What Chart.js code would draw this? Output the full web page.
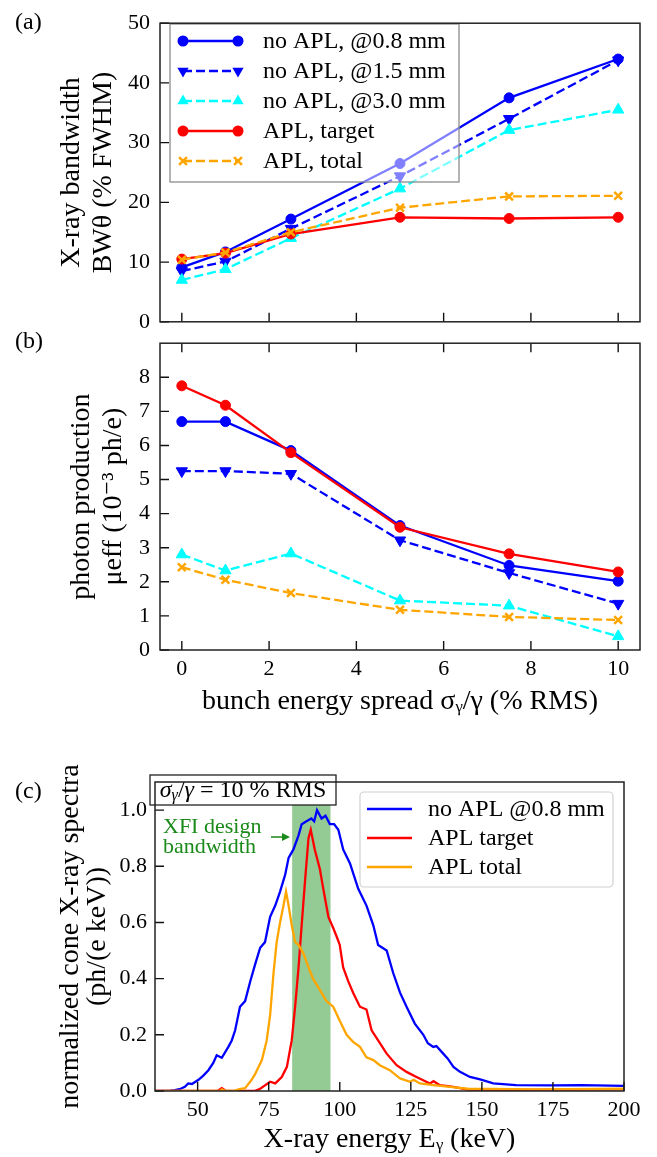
<!DOCTYPE html>
<html>
<head>
<meta charset="utf-8">
<script src="https://cdn.jsdelivr.net/npm/chart.js@4.4.0/dist/chart.umd.min.js"></script>
<style>
	body { margin: 0; background: #fff; width: 657px; height: 1157px; position: relative; overflow: hidden; }
	.box { position: absolute; left: 0; width: 657px; }
</style>
</head>
<body>
<div class="box" style="top:0;height:345px"><canvas id="chartA"></canvas></div>
<div class="box" style="top:320px;height:400px"><canvas id="chartB"></canvas></div>
<div class="box" style="top:760px;height:397px"><canvas id="chartC"></canvas></div>
<script>
// ---- data: panels (a) and (b) ----
var spread = [0, 1, 2.5, 5, 7.5, 10];
var seriesLabels = ['no APL, @0.8 mm', 'no APL, @1.5 mm', 'no APL, @3.0 mm', 'APL, target', 'APL, total'];

var bwNoApl08 = [9.1, 11.7, 17.2, 26.5, 37.5, 44.0];
var bwNoApl15 = [8.5, 10.1, 15.6, 24.4, 34.0, 43.8];
var bwNoApl30 = [7.0, 8.8, 14.0, 22.3, 32.1, 35.5];
var bwAplTarget = [10.5, 11.5, 14.7, 17.5, 17.3, 17.5];
var bwAplTotal = [10.4, 11.6, 15.0, 19.1, 21.0, 21.1];

var muNoApl08 = [6.7, 6.7, 5.85, 3.65, 2.48, 2.02];
var muNoApl15 = [5.25, 5.25, 5.17, 3.22, 2.26, 1.36];
var muNoApl30 = [2.8, 2.33, 2.83, 1.45, 1.3, 0.4];
var muAplTarget = [7.75, 7.18, 5.79, 3.6, 2.82, 2.29];
var muAplTotal = [2.43, 2.06, 1.67, 1.18, 0.97, 0.88];

var spreadTicks = [0, 2, 4, 6, 8, 10];
var bwTicks = [0, 10, 20, 30, 40, 50];
var muTicks = [0, 1, 2, 3, 4, 5, 6, 7, 8];

// ---- data: panel (c) spectra ----
var specLabels = ['no APL @0.8 mm', 'APL target', 'APL total'];
var specEnergyBlue = [35, 40, 42, 44, 45.5, 46.7, 48, 50.3, 52, 53.8, 55.5, 56.7, 58.5, 60.8, 62, 63.2, 64.9, 66.7, 68.5, 70.2, 72, 73.7, 75.5, 77.3, 79, 80.8, 82, 83.7, 85.5, 86.6, 88.3, 90, 91, 92, 93.6, 95, 96.5, 98, 99.5, 101.2, 103.6, 106.5, 109.4, 111.8, 113.5, 115, 116.5, 118.8, 121.2, 123.5, 126.4, 129.4, 131, 132.9, 134, 136.4, 138, 140, 142.3, 145.8, 149.4, 154, 162, 175, 185, 200];
var specBlue = [0, 0, 0.003, 0.008, 0.015, 0.027, 0.025, 0.04, 0.055, 0.074, 0.1, 0.127, 0.118, 0.157, 0.18, 0.216, 0.30, 0.32, 0.39, 0.45, 0.51, 0.53, 0.62, 0.66, 0.71, 0.77, 0.83, 0.86, 0.91, 0.95, 0.96, 0.97, 0.96, 1.0, 0.97, 0.98, 0.95, 0.95, 0.93, 0.86, 0.81, 0.72, 0.66, 0.59, 0.52, 0.51, 0.50, 0.42, 0.35, 0.30, 0.24, 0.20, 0.17, 0.157, 0.16, 0.133, 0.115, 0.086, 0.068, 0.05, 0.041, 0.027, 0.021, 0.02, 0.021, 0.018];
var specEnergyRed = [35, 57, 58.5, 60, 70, 72, 73.7, 75.5, 77.3, 79.6, 81.4, 83.1, 84.3, 85.5, 86.6, 87.8, 89, 89.8, 91.2, 93, 94.2, 96, 97.7, 98.9, 100, 101.2, 103, 104.7, 107.1, 109.4, 111.2, 113.5, 116.5, 120, 123.5, 127, 131.7, 133, 135.2, 140, 145, 160, 200];
var specRed = [0, 0, 0.01, 0, 0, 0.008, 0.02, 0.033, 0.027, 0.05, 0.086, 0.18, 0.30, 0.44, 0.59, 0.75, 0.90, 0.93, 0.86, 0.79, 0.72, 0.62, 0.58, 0.55, 0.52, 0.44, 0.39, 0.35, 0.30, 0.29, 0.216, 0.18, 0.133, 0.092, 0.068, 0.05, 0.027, 0.035, 0.021, 0.015, 0.005, 0.004, 0.006];
var specEnergyOrange = [35, 58, 58.5, 60, 63, 64.3, 66.7, 69, 70.2, 72.6, 74.3, 75.5, 76.7, 77.8, 79, 80.2, 81.1, 82, 83.1, 84.3, 85.5, 87.2, 88.3, 89, 90.6, 93, 95.3, 97.7, 100, 102.4, 104.7, 107.1, 109.4, 111.8, 114.1, 117.6, 121.2, 124.7, 126, 128.2, 133, 138.8, 145, 170, 200];
var specOrange = [0, 0, 0.006, 0, 0, 0.006, 0.01, 0.04, 0.06, 0.11, 0.18, 0.27, 0.42, 0.53, 0.60, 0.66, 0.71, 0.66, 0.59, 0.53, 0.52, 0.49, 0.46, 0.44, 0.40, 0.36, 0.32, 0.30, 0.25, 0.20, 0.175, 0.157, 0.12, 0.11, 0.092, 0.074, 0.045, 0.033, 0.04, 0.027, 0.021, 0.015, 0.008, 0.006, 0.008];
var bandLow = 83.25, bandHigh = 96.75;
var energyTicks = [50, 75, 100, 125, 150, 175, 200];
var specTicks = [0, 0.2, 0.4, 0.6, 0.8, 1.0];

var serif = "'Liberation Serif', 'DejaVu Serif', serif";
Chart.defaults.font.family = serif;
Chart.defaults.color = '#000';

var styles = [
	{color: '#0000ff', dash: [], point: 'circle', radius: 5, rot: 0},
	{color: '#0000ff', dash: [9, 4], point: 'triangle', radius: 6.5, rot: 180},
	{color: '#00ffff', dash: [9, 4], point: 'triangle', radius: 6.5, rot: 0},
	{color: '#ff0000', dash: [], point: 'circle', radius: 5, rot: 0},
	{color: '#ffa500', dash: [9, 4], point: 'crossRot', radius: 5.5, rot: 0}
];

function pairs(xs, ys) {
	return xs.map(function(x, i) { return {x: x, y: ys[i]}; });
}

function fixTicks(values) {
	return function(scale) {
		scale.ticks = values.map(function(v) { return {value: v}; });
	};
}

function pointSet(values, i) {
	var s = styles[i];
	return {
		label: seriesLabels[i],
		data: pairs(spread, values),
		borderColor: s.color,
		backgroundColor: s.color,
		borderWidth: 2.3,
		borderDash: s.dash,
		pointStyle: s.point,
		pointRadius: s.radius,
		pointRotation: s.rot,
		pointBorderWidth: s.point == 'crossRot' ? 2.5 : 1,
		order: 5 - i
	};
}

function drawMarker(ctx, s, x, y) {
	ctx.save();
	ctx.fillStyle = s.color;
	ctx.strokeStyle = s.color;
	ctx.setLineDash([]);
	ctx.beginPath();
	if (s.point == 'circle') {
		ctx.arc(x, y, s.radius + 0.5, 0, Math.PI * 2);
		ctx.fill();
	} else if (s.point == 'triangle') {
		var d = s.rot ? -1 : 1;
		ctx.moveTo(x, y - d * s.radius);
		ctx.lineTo(x + s.radius * 0.866, y + d * s.radius * 0.5);
		ctx.lineTo(x - s.radius * 0.866, y + d * s.radius * 0.5);
		ctx.closePath();
		ctx.fill();
	} else {
		var k = s.radius * 0.72;
		ctx.lineWidth = 2.5;
		ctx.moveTo(x - k, y - k); ctx.lineTo(x + k, y + k);
		ctx.moveTo(x + k, y - k); ctx.lineTo(x - k, y + k);
		ctx.stroke();
	}
	ctx.restore();
}

// inward ticks and a full frame, like the matplotlib axes
var frameTicks = {
	id: 'frameTicks',
	afterDraw: function(chart, args, o) {
		var ctx = chart.ctx, a = chart.chartArea;
		var xs = chart.scales.x, ys = chart.scales.y;
		ctx.save();
		ctx.strokeStyle = '#111';
		ctx.lineWidth = 1.4;
		ctx.beginPath();
		xs.ticks.forEach(function(t) {
			var px = xs.getPixelForValue(t.value);
			if (o.bottom) { ctx.moveTo(px, a.bottom); ctx.lineTo(px, a.bottom - o.len); }
			if (o.top) { ctx.moveTo(px, a.top); ctx.lineTo(px, a.top + o.len); }
		});
		ys.ticks.forEach(function(t) {
			var py = ys.getPixelForValue(t.value);
			ctx.moveTo(a.left, py); ctx.lineTo(a.left + o.len, py);
		});
		ctx.stroke();
		ctx.lineWidth = 1.5;
		ctx.strokeStyle = '#222';
		ctx.strokeRect(a.left, a.top, a.right - a.left, a.bottom - a.top);
		ctx.fillStyle = '#000';
		ctx.font = '24px ' + serif;
		ctx.textBaseline = 'middle';
		ctx.textAlign = 'left';
		ctx.fillText(o.tag, 15, o.tagY);
		ctx.restore();
	}
};

// legend box of panel (a), drawn over the lines
var legendA = {
	id: 'legendA',
	afterDatasetsDraw: function(chart) {
		var ctx = chart.ctx;
		ctx.save();
		ctx.fillStyle = 'rgba(255,255,255,0.5)';
		ctx.fillRect(170, 24, 289, 158);
		ctx.strokeStyle = '#8c8c8c';
		ctx.lineWidth = 1.3;
		ctx.strokeRect(170, 24, 289, 158);
		ctx.font = '24px ' + serif;
		ctx.textBaseline = 'middle';
		ctx.fillStyle = '#000';
		seriesLabels.forEach(function(label, i) {
			var s = styles[i], y = 41 + i * 30;
			ctx.strokeStyle = s.color;
			ctx.lineWidth = 2.3;
			ctx.setLineDash(s.dash);
			ctx.beginPath();
			ctx.moveTo(183, y); ctx.lineTo(238, y);
			ctx.stroke();
			drawMarker(ctx, s, 183, y);
			drawMarker(ctx, s, 238, y);
			ctx.fillStyle = '#000';
			ctx.fillText(label, 263, y + 1);
		});
		ctx.restore();
	}
};

function chartOptions(pad, yTitle, yTitleLh, yTitlePad, yWidth) {
	return {
		responsive: true,
		maintainAspectRatio: false,
		animation: false,
		devicePixelRatio: 1,
		layout: {padding: pad},
		plugins: {legend: {display: false}, tooltip: {enabled: false}},
		scales: {
			y: {
				type: 'linear',
				grid: {display: false, drawTicks: false},
				border: {display: false},
				ticks: {font: {size: 22}, padding: 10},
				title: {display: true, text: yTitle, font: {size: 28, lineHeight: yTitleLh}, padding: {top: yTitlePad, bottom: 0}},
				afterFit: function(s) { s.width = yWidth; }
			}
		}
	};
}

// ---- panel (a) ----
var optA = chartOptions({top: 13, right: 17, left: 0, bottom: 0}, ['X-ray bandwidth', 'BWθ (% FWHM)'], 1.12, 56.3, 160);
optA.scales.y.min = 0;
optA.scales.y.max = 50;
optA.scales.y.afterBuildTicks = fixTicks(bwTicks);
optA.scales.x = {
	type: 'linear', min: -0.5, max: 10.5,
	grid: {display: false, drawTicks: false}, border: {display: false},
	ticks: {display: false},
	afterBuildTicks: fixTicks(spreadTicks),
	afterFit: function(s) { s.height = 14; }
};
optA.plugins.frameTicks = {len: 9, bottom: true, top: false, tag: '(a)', tagY: 23};

new Chart(document.getElementById('chartA'), {
	type: 'line',
	data: {datasets: [bwNoApl08, bwNoApl15, bwNoApl30, bwAplTarget, bwAplTotal].map(pointSet)},
	options: optA,
	plugins: [legendA, frameTicks]
});

// ---- panel (b) ----
var optB = chartOptions({top: 11, right: 17, left: 0, bottom: 0}, ['photon production', 'μeff (10⁻³ ph/e)'], 1.14, 66, 160);
optB.scales.y.min = 0;
optB.scales.y.max = 9;
optB.scales.y.afterBuildTicks = fixTicks(muTicks);
optB.scales.x = {
	type: 'linear', min: -0.5, max: 10.5,
	grid: {display: false, drawTicks: false}, border: {display: false},
	ticks: {font: {size: 22}, padding: 6},
	title: {display: true, text: 'bunch energy spread σᵧ/γ (% RMS)', font: {size: 28, lineHeight: 1.2}, padding: {top: 0, bottom: 1.2}},
	afterBuildTicks: fixTicks(spreadTicks),
	afterFit: function(s) { s.height = 70; }
};
optB.plugins.frameTicks = {len: 9, bottom: true, top: true, tag: '(b)', tagY: 22};

new Chart(document.getElementById('chartB'), {
	type: 'line',
	data: {datasets: [muNoApl08, muNoApl15, muNoApl30, muAplTarget, muAplTotal].map(pointSet)},
	options: optB,
	plugins: [frameTicks]
});

// ---- panel (c) ----
var specColors = ['#0000ff', '#ff0000', '#ffa500'];

var bandAndNotes = {
	id: 'bandAndNotes',
	beforeDatasetsDraw: function(chart) {
		var ctx = chart.ctx, a = chart.chartArea, xs = chart.scales.x;
		var x1 = xs.getPixelForValue(bandLow), x2 = xs.getPixelForValue(bandHigh);
		ctx.save();
		ctx.fillStyle = 'rgba(0,128,0,0.42)';
		ctx.fillRect(x1, a.top, x2 - x1, a.bottom - a.top);
		ctx.restore();
	},
	afterDraw: function(chart) {
		var ctx = chart.ctx;
		ctx.save();
		// design bandwidth note
		ctx.fillStyle = '#1a8a1a';
		ctx.font = '22px ' + serif;
		ctx.textBaseline = 'middle';
		ctx.textAlign = 'left';
		ctx.fillText('XFI design', 163, 67);
		ctx.fillText('bandwidth', 163, 87);
		ctx.strokeStyle = '#1a8a1a';
		ctx.lineWidth = 1.5;
		ctx.beginPath();
		ctx.moveTo(271, 77); ctx.lineTo(284, 77);
		ctx.stroke();
		ctx.beginPath();
		ctx.moveTo(290, 77); ctx.lineTo(282, 73); ctx.lineTo(282, 81); ctx.closePath();
		ctx.fill();

		// legend
		ctx.fillStyle = 'rgba(255,255,255,0.8)';
		ctx.strokeStyle = '#d0d0d0';
		ctx.lineWidth = 1.2;
		ctx.beginPath();
		ctx.roundRect(360, 32, 253, 95, 4);
		ctx.fill();
		ctx.stroke();
		ctx.font = '24px ' + serif;
		specLabels.forEach(function(label, i) {
			var y = 49 + i * 29;
			ctx.strokeStyle = specColors[i];
			ctx.lineWidth = 2.3;
			ctx.beginPath();
			ctx.moveTo(367, y); ctx.lineTo(412, y);
			ctx.stroke();
			ctx.fillStyle = '#000';
			ctx.fillText(label, 428, y + 1);
		});

		// sigma box above the axes
		var parts = [
			{t: 'σ', f: 'italic 24px ', dy: 0},
			{t: 'γ', f: 'italic 16px ', dy: 5},
			{t: '/', f: '24px ', dy: 0},
			{t: 'γ', f: 'italic 24px ', dy: 0},
			{t: ' = 10 % RMS', f: '24px ', dy: 0}
		];
		var w = 0;
		parts.forEach(function(p) { ctx.font = p.f + serif; p.w = ctx.measureText(p.t).width; w += p.w; });
		ctx.fillStyle = '#fff';
		ctx.strokeStyle = '#222';
		ctx.lineWidth = 1.3;
		ctx.fillRect(150, 15, 186, 30);
		ctx.strokeRect(150, 15, 186, 30);
		var x = 243 - w / 2;
		ctx.fillStyle = '#000';
		parts.forEach(function(p) {
			ctx.font = p.f + serif;
			ctx.fillText(p.t, x, 31 + p.dy);
			x += p.w;
		});
		ctx.restore();
	}
};

var optC = chartOptions({top: 22, right: 33, left: 0, bottom: 0}, ['normalized cone X-ray spectra', '(ph/(e keV))'], 0.95, 57.7, 155);
optC.scales.y.min = 0;
optC.scales.y.max = 1.1;
optC.scales.y.ticks.padding = 8;
optC.scales.y.ticks.callback = function(v) { return v.toFixed(1); };
optC.scales.y.afterBuildTicks = fixTicks(specTicks);
optC.scales.x = {
	type: 'linear', min: 35, max: 200,
	grid: {display: false, drawTicks: false}, border: {display: false},
	ticks: {font: {size: 22}, padding: 6},
	title: {display: true, text: 'X-ray energy Eᵧ (keV)', font: {size: 28, lineHeight: 1.2}, padding: {top: 0, bottom: 0.2}},
	afterBuildTicks: fixTicks(energyTicks),
	afterFit: function(s) { s.height = 66; }
};
optC.plugins.frameTicks = {len: 9, bottom: true, top: false, tag: '(c)', tagY: 32};

new Chart(document.getElementById('chartC'), {
	type: 'line',
	data: {
		datasets: [
			{label: specLabels[0], data: pairs(specEnergyBlue, specBlue), borderColor: specColors[0], borderWidth: 2.3, pointRadius: 0, order: 3},
			{label: specLabels[1], data: pairs(specEnergyRed, specRed), borderColor: specColors[1], borderWidth: 2.3, pointRadius: 0, order: 2},
			{label: specLabels[2], data: pairs(specEnergyOrange, specOrange), borderColor: specColors[2], borderWidth: 2.3, pointRadius: 0, order: 1}
		]
	},
	options: optC,
	plugins: [bandAndNotes, frameTicks]
});
</script>
</body>
</html>
